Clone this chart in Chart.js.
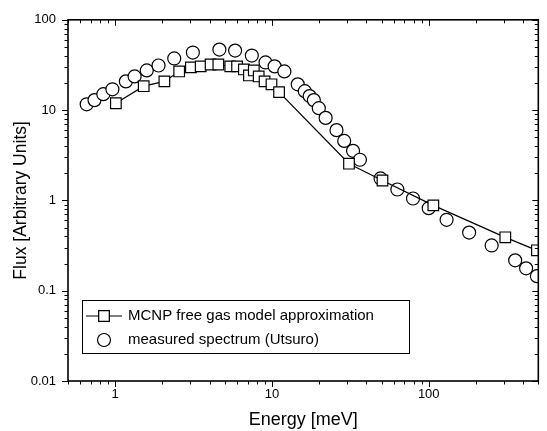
<!DOCTYPE html>
<html>
<head>
<meta charset="utf-8">
<script src="https://cdn.jsdelivr.net/npm/chart.js@4.4.0/dist/chart.umd.min.js"></script>
<style>
  html, body { margin: 0; padding: 0; background: #fff; }
</style>
</head>
<body>
<canvas id="fluxChart" width="547" height="431"></canvas>
<script>
// data (energy in meV, flux in arbitrary units)
const energyMcnp = [1.01, 1.52, 2.06, 2.56, 3.04, 3.51, 4.06, 4.55, 5.42, 5.99, 6.62, 7.13, 7.66, 8.23, 8.97, 9.93, 11.1, 31.0, 50.7, 107, 308, 490];
const fluxMcnp = [11.9, 18.4, 20.8, 26.8, 29.7, 30.5, 32.0, 32.0, 30.5, 30.5, 28.2, 24.2, 27.5, 23.6, 20.8, 19.3, 15.8, 2.55, 1.66, 0.88, 0.39, 0.28];

const energyMeasured = [0.658, 0.738, 0.84, 0.96, 1.17, 1.33, 1.59, 1.89, 2.38, 3.13, 4.62, 5.82, 7.44, 9.1, 10.4, 12.0, 14.6, 16.2, 17.4, 18.5, 19.9, 22.0, 25.8, 28.9, 32.9, 36.4, 49.3, 63.1, 79.4, 100, 130, 181, 252, 356, 418, 490];
const fluxMeasured = [11.6, 12.9, 15.0, 17.0, 20.8, 23.6, 27.5, 31.2, 37.3, 43.4, 46.8, 45.6, 40.2, 33.7, 30.5, 26.8, 19.3, 16.2, 14.3, 12.9, 10.5, 8.2, 6.0, 4.56, 3.54, 2.82, 1.75, 1.32, 1.05, 0.82, 0.61, 0.44, 0.317, 0.217, 0.177, 0.145];

const xTicks = [1, 10, 100];
const xTickLabels = ['1', '10', '100'];
const yTicks = [0.01, 0.1, 1, 10, 100];
const yTickLabels = ['0.01', '0.1', '1', '10', '100'];

const seriesLabels = ['MCNP free gas model approximation', 'measured spectrum (Utsuro)'];

const FONT = '"Liberation Sans", Arial, sans-serif';

function toPoints(xs, ys) {
    return xs.map((x, i) => ({ x: x, y: ys[i] }));
}

// all 1..9 x 10^k values inside the axis range
function logTickValues(min, max) {
    const out = [];
    for (let e = Math.floor(Math.log10(min)); e <= Math.ceil(Math.log10(max)); e++) {
        for (let n = 1; n < 10; n++) {
            const v = n * Math.pow(10, e);
            if (v >= min * 0.999 && v <= max * 1.001) out.push({ v: v, major: n === 1 });
        }
    }
    return out;
}

// frame, tick marks on four sides and the boxed legend inside the plot
const framePlugin = {
    id: 'frameAndLegend',
    afterDraw(chart) {
        const ctx = chart.ctx;
        const a = chart.chartArea;
        const xs = chart.scales.x;
        const ys = chart.scales.y;
        ctx.save();
        ctx.strokeStyle = '#000';

        ctx.lineWidth = 1;
        logTickValues(xs.min, xs.max).forEach(t => {
            const px = Math.round(xs.getPixelForValue(t.v)) + 0.5;
            const len = t.major ? 6 : 3.5;
            ctx.beginPath();
            ctx.moveTo(px, a.bottom); ctx.lineTo(px, a.bottom + len);
            ctx.moveTo(px, a.top); ctx.lineTo(px, a.top + len);
            ctx.stroke();
        });
        logTickValues(ys.min, ys.max).forEach(t => {
            const py = Math.round(ys.getPixelForValue(t.v)) + 0.5;
            const len = t.major ? 6 : 3.5;
            ctx.beginPath();
            ctx.moveTo(a.left - len, py); ctx.lineTo(a.left, py);
            ctx.moveTo(a.right - len, py); ctx.lineTo(a.right, py);
            ctx.stroke();
        });

        ctx.lineWidth = 1.6;
        ctx.strokeRect(a.left, a.top, a.right - a.left, a.bottom - a.top);

        // legend
        const lx = 82, ly = 300, lw = 327, lh = 53;
        ctx.fillStyle = '#fff';
        ctx.fillRect(lx, ly, lw, lh);
        ctx.lineWidth = 1;
        ctx.strokeRect(lx + 0.5, ly + 0.5, lw, lh);

        const ds0 = chart.data.datasets[0];
        const ds1 = chart.data.datasets[1];
        const row1 = ly + 16, row2 = ly + 40, mx = lx + 22;
        ctx.lineWidth = 1.2;
        ctx.beginPath();
        ctx.moveTo(lx + 4, row1); ctx.lineTo(lx + 40, row1);
        ctx.stroke();
        ctx.fillStyle = '#fff';
        Chart.helpers.drawPoint(ctx, { pointStyle: 'rect', radius: ds0.pointRadius, borderWidth: 1.2 }, mx, row1);
        ctx.fill(); ctx.stroke();
        Chart.helpers.drawPoint(ctx, { pointStyle: 'circle', radius: ds1.pointRadius, borderWidth: 1.2 }, mx, row2);

        ctx.fillStyle = '#000';
        ctx.font = '15px ' + FONT;
        ctx.textBaseline = 'middle';
        ctx.textAlign = 'left';
        ctx.fillText(ds0.label, lx + 46, row1);
        ctx.fillText(ds1.label, lx + 46, row2);
        ctx.restore();
    }
};

const ctx = document.getElementById('fluxChart').getContext('2d');
const chart = new Chart(ctx, {
    type: 'scatter',
    data: {
        datasets: [{
            label: seriesLabels[0],
            data: toPoints(energyMcnp, fluxMcnp),
            showLine: true,
            borderColor: '#000',
            borderWidth: 1.2,
            tension: 0,
            pointStyle: 'rect',
            pointRadius: 7.5,
            pointBorderWidth: 1.2,
            pointBackgroundColor: '#fff',
            pointBorderColor: '#000'
        }, {
            label: seriesLabels[1],
            data: toPoints(energyMeasured, fluxMeasured),
            showLine: false,
            pointStyle: 'circle',
            pointRadius: 6.5,
            pointBorderWidth: 1.2,
            pointBackgroundColor: '#fff',
            pointBorderColor: '#000'
        }]
    },
    options: {
        responsive: false,
        animation: false,
        layout: { padding: { left: 0, top: 16, right: 1, bottom: 0 } },
        plugins: {
            legend: { display: false },
            tooltip: { enabled: false }
        },
        scales: {
            x: {
                type: 'logarithmic',
                min: 0.5,
                max: 500,
                grid: { display: false, drawTicks: false, tickLength: 0 },
                border: { display: false },
                afterBuildTicks(scale) {
                    scale.ticks = xTicks.map(v => ({ value: v }));
                },
                afterFit(scale) { scale.height = 50; },
                ticks: {
                    color: '#000',
                    padding: 6,
                    maxRotation: 0,
                    autoSkip: false,
                    font: { family: FONT, size: 13 },
                    callback: (v) => xTickLabels[xTicks.indexOf(v)]
                },
                title: {
                    display: true,
                    text: 'Energy [meV]',
                    color: '#000',
                    font: { family: FONT, size: 18 },
                    padding: { top: 0, bottom: 0 }
                }
            },
            y: {
                type: 'logarithmic',
                min: 0.01,
                max: 100,
                grid: { display: false, drawTicks: false, tickLength: 0 },
                border: { display: false },
                afterBuildTicks(scale) {
                    scale.ticks = yTicks.map(v => ({ value: v }));
                },
                afterFit(scale) { scale.width = 68; },
                ticks: {
                    color: '#000',
                    padding: 12,
                    autoSkip: false,
                    font: { family: FONT, size: 13 },
                    callback: (v) => yTickLabels[yTicks.indexOf(v)]
                },
                title: {
                    display: true,
                    text: 'Flux [Arbitrary Units]',
                    color: '#000',
                    font: { family: FONT, size: 17.5 },
                    padding: { top: 11, bottom: 0 }
                }
            }
        }
    },
    plugins: [framePlugin]
});
</script>
</body>
</html>
